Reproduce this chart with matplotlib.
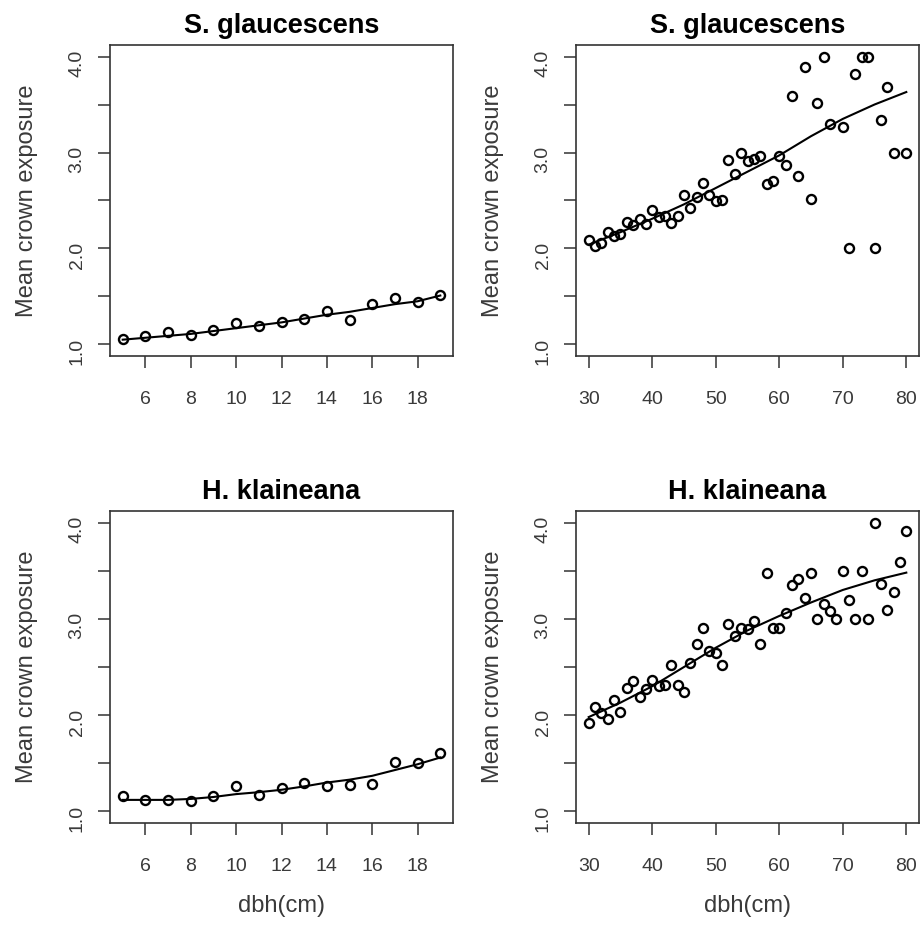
"""Mean crown exposure vs dbh for S. glaucescens and H. klaineana (small / large trees)."""
import numpy as np
import matplotlib
matplotlib.use("Agg")
import matplotlib.pyplot as plt

plt.rcParams["font.family"] = ["Liberation Sans", "DejaVu Sans"]

# small trees, dbh 5-19 cm
small_dbh = [5, 6, 7, 8, 9, 10, 11, 12, 13, 14, 15, 16, 17, 18, 19]
sg_small = [1.06, 1.09, 1.13, 1.10, 1.155, 1.22, 1.19, 1.23, 1.27, 1.35,
            1.26, 1.42, 1.48, 1.44, 1.52]
sg_small_fit = [1.05, 1.07, 1.09, 1.11, 1.14, 1.17, 1.20, 1.23, 1.27, 1.31,
                1.34, 1.38, 1.42, 1.45, 1.51]
hk_small = [1.156, 1.12, 1.12, 1.107, 1.156, 1.26, 1.166, 1.24, 1.30, 1.26,
            1.27, 1.28, 1.51, 1.50, 1.605]
hk_small_fit = [1.12, 1.12, 1.12, 1.13, 1.15, 1.18, 1.20, 1.225, 1.26, 1.30,
                1.33, 1.37, 1.43, 1.49, 1.56]

# large trees, dbh 30-80 cm
sg_large_dbh = [30, 31, 32, 33, 34, 35, 36, 37, 38, 39, 40, 41, 42, 43, 44,
                45, 46, 47, 48, 49, 50, 51, 52, 53, 54, 55, 56, 57, 58, 59,
                60, 61, 62, 63, 64, 65, 66, 67, 68, 70, 71, 72, 73, 74, 75,
                76, 77, 78, 80]
sg_large = [2.09, 2.03, 2.06, 2.17, 2.135, 2.15, 2.28, 2.24, 2.31, 2.26,
            2.40, 2.33, 2.34, 2.27, 2.34, 2.56, 2.42, 2.54, 2.68, 2.56,
            2.49, 2.50, 2.92, 2.78, 2.99, 2.91, 2.93, 2.96, 2.67, 2.70,
            2.96, 2.875, 3.59, 2.76, 3.89, 2.52, 3.52, 4.0, 3.30, 3.27,
            2.0, 3.82, 4.0, 4.0, 2.0, 3.34, 3.68, 3.0, 3.0]
hk_large_dbh = list(range(30, 81))
hk_large = [1.92, 2.08, 2.02, 1.96, 2.16, 2.03, 2.28, 2.35, 2.19, 2.27,
            2.37, 2.30, 2.31, 2.52, 2.31, 2.24, 2.54, 2.74, 2.90, 2.67,
            2.65, 2.52, 2.95, 2.82, 2.90, 2.89, 2.98, 2.74, 3.48, 2.90,
            2.91, 3.06, 3.35, 3.41, 3.22, 3.48, 3.00, 3.15, 3.08, 3.00,
            3.50, 3.20, 3.00, 3.50, 3.00, 4.00, 3.36, 3.09, 3.28, 3.59,
            3.91]
fit_large_dbh = [30, 35, 40, 45, 50, 55, 60, 65, 70, 75, 80]
sg_large_fit = [2.04, 2.17, 2.31, 2.46, 2.63, 2.80, 2.97, 3.17, 3.35, 3.50, 3.63]
hk_large_fit = [1.98, 2.13, 2.30, 2.50, 2.70, 2.88, 3.03, 3.17, 3.30, 3.40, 3.48]

Y_TICKS = [1.0, 1.5, 2.0, 2.5, 3.0, 3.5, 4.0]
Y_LABELS = ["1.0", "", "2.0", "", "3.0", "", "4.0"]
TXT = "#3a3a3a"

W, H = 922, 932
fig = plt.figure(figsize=(W / 100, H / 100), dpi=100)


def panel(left, top, bottom, x, y, fx, fy, title, xticks, xlim, xlabel):
    ax = fig.add_axes([left / W, (H - bottom) / H, 343 / W, (bottom - top) / H])
    ax.plot(x, y, "o", ms=6.5, mfc="none", mec="black", mew=1.7)
    ax.plot(fx, fy, "-", color="black", lw=1.5)
    ax.set_xlim(*xlim)
    ax.set_ylim(0.88, 4.12)
    ax.set_xticks(xticks)
    ax.set_yticks(Y_TICKS, Y_LABELS)
    ax.tick_params(axis="both", direction="out", length=8.5, width=1.1,
                   color="#333333", labelsize=14, labelcolor=TXT)
    ax.tick_params(axis="x", pad=17)
    ax.tick_params(axis="y", pad=9, labelrotation=90)
    for s in ax.spines.values():
        s.set_linewidth(1.2)
        s.set_color("#333333")
    ax.set_title(title, fontsize=19.5, fontweight="bold", pad=8.5)
    ax.set_ylabel("Mean crown exposure", fontsize=17, color=TXT)
    ax.yaxis.set_label_coords(-0.21, 0.5)
    if xlabel:
        ax.set_xlabel("dbh(cm)", fontsize=17, color=TXT)
        ax.xaxis.set_label_coords(0.5, -0.23)
    return ax


panel(110, 45, 356, small_dbh, sg_small, small_dbh, sg_small_fit,
      "S. glaucescens", range(6, 19, 2), (4.44, 19.56), False)
panel(576, 45, 356, sg_large_dbh, sg_large, fit_large_dbh, sg_large_fit,
      "S. glaucescens", range(30, 81, 10), (28, 82), False)
panel(110, 511, 823, small_dbh, hk_small, small_dbh, hk_small_fit,
      "H. klaineana", range(6, 19, 2), (4.44, 19.56), True)
panel(576, 511, 823, hk_large_dbh, hk_large, fit_large_dbh, hk_large_fit,
      "H. klaineana", range(30, 81, 10), (28, 82), True)

fig.savefig("out.png", dpi=100)
